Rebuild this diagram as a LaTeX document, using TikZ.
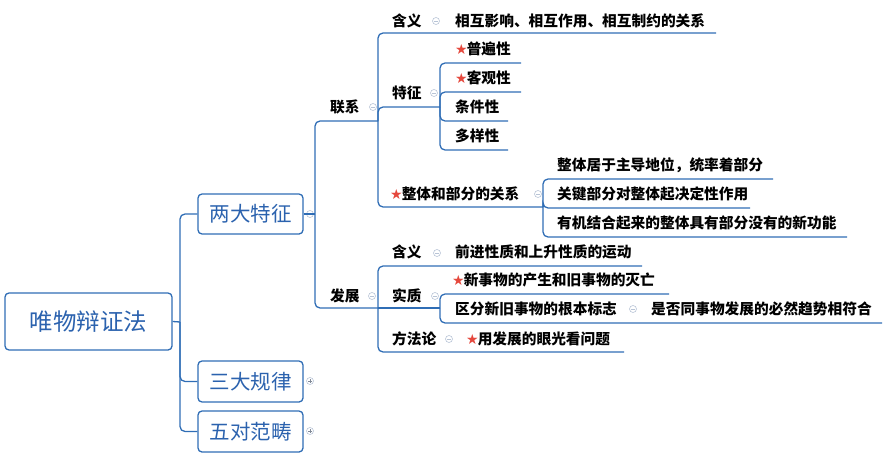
\documentclass[tikz,border=0pt]{standalone}
\usepackage{fontspec}
\setmainfont{Noto Sans CJK SC}
\newfontfamily\symf{DejaVu Sans}
\definecolor{ln}{HTML}{2F6DB5}
\definecolor{bt}{HTML}{2B62AE}
\definecolor{st}{HTML}{E5483D}
\definecolor{cg}{HTML}{B8C4D6}
\tikzset{
  link/.style={draw=ln,line width=1.3pt,rounded corners=5pt},
  lab/.style={anchor=west,inner sep=0pt,font=\fontsize{14.7}{16}\selectfont\bfseries},
  box/.style={draw=ln,line width=1.3pt,rounded corners=4pt,text=bt,inner sep=0pt},
  coll/.style={circle,draw=cg,line width=0.6pt,minimum size=7pt,inner sep=0pt},
}
\newcommand{\mstar}{{\symf\color{st}\fontsize{14}{12}\selectfont★}\hspace{-1pt}}
\newcommand{\minus}[2]{\node[coll] (#1) at (#2) {}; \draw[cg,line width=0.6pt] ([xshift=-2pt]#1.center)--([xshift=2pt]#1.center);}
\newcommand{\plus}[2]{\node[coll] (#1) at (#2) {}; \draw[cg!70!black,line width=0.6pt] ([xshift=-2pt]#1.center)--([xshift=2pt]#1.center) ([yshift=-2pt]#1.center)--([yshift=2pt]#1.center);}
\begin{document}
\begin{tikzpicture}[x=1pt,y=-1pt]
\useasboundingbox (0,0) rectangle (886,460);
\node[box,minimum width=167pt,minimum height=57pt,font=\fontsize{23.5}{26}\selectfont] (root) at (88.5,321.5) {唯物辩证法};
\node[box,minimum width=105pt,minimum height=40pt,font=\fontsize{20.5}{22}\selectfont] (b1) at (250.5,214) {两大特征};
\node[box,minimum width=105pt,minimum height=41pt,font=\fontsize{20.5}{22}\selectfont] (b2) at (250.5,381.5) {三大规律};
\node[box,minimum width=105pt,minimum height=41pt,font=\fontsize{20.5}{22}\selectfont] (b3) at (250.5,431.5) {五对范畴};
\coordinate (rh) at (180,322);
\draw[link] (root.east) -- (rh);
\draw[link] (rh) |- (b1.west);
\draw[link] (rh) |- (b2.west);
\draw[link] (rh) |- (b3.west);
\minus{c1}{310,214}
\plus{c2}{310,381}
\plus{c3}{310,431}
\node[lab] (lx) at (330,107) {联系}; \minus{clx}{373,107}
\node[lab] (fz) at (330,296) {发展}; \minus{cfz}{372,296}
\coordinate (lxb) at (378,121);
\coordinate (fzb) at (378,308);
\coordinate (t1) at (315,214);
\draw[link] (b1.east) -- (t1);
\draw[link] (t1) |- (lxb);
\draw[link] (t1) |- (fzb);
\node[lab] (hy1) at (392,21) {含义}; \minus{chy1}{436,21}
\node[lab] (hy1t) at (455,21) {相互影响、相互作用、相互制约的关系};
\coordinate (hy1e) at (716,33);
\draw[link] (lxb) |- (hy1e);
\node[lab] (tz) at (392,93) {特征}; \minus{ctz}{434,93}
\coordinate (tze) at (440,107);
\draw[link] (lxb) |- (tze);
\node[lab] (p1) at (455,49) {\mstar 普遍性};
\node[lab] (p2) at (455,78) {\mstar 客观性};
\node[lab] (p3) at (455,107) {条件性};
\node[lab] (p4) at (455,136) {多样性};
\coordinate (p1e) at (521,63); \coordinate (p2e) at (521,92);
\coordinate (p3e) at (508,121); \coordinate (p4e) at (508,150);
\draw[link] (tze) |- (p1e); \draw[link] (tze) |- (p2e);
\draw[link] (tze) |- (p3e); \draw[link] (tze) |- (p4e);
\node[lab] (zt) at (390,194) {\mstar 整体和部分的关系}; \minus{czt}{538,194}
\coordinate (zte) at (543,207);
\draw[link] (lxb) |- (zte);
\node[lab] (z1) at (557,165) {整体居于主导地位，统率着部分};
\node[lab] (z2) at (557,194) {关键部分对整体起决定性作用};
\node[lab] (z3) at (557,223) {有机结合起来的整体具有部分没有的新功能};
\coordinate (z1e) at (773,179); \coordinate (z2e) at (750,208); \coordinate (z3e) at (847,237);
\draw[link] (zte) |- (z1e); \draw[link] (zte) |- (z2e); \draw[link] (zte) |- (z3e);
\node[lab] (hy2) at (392,252) {含义}; \minus{chy2}{437,253}
\node[lab] (hy2t) at (455,252) {前进性质和上升性质的运动};
\coordinate (hy2e) at (642,266);
\draw[link] (fzb) |- (hy2e);
\node[lab] (sz) at (392,296) {实质}; \minus{csz}{435,296}
\coordinate (sze) at (440,308);
\draw[link] (fzb) -- (sze);
\node[lab] (s1) at (452,280) {\mstar 新事物的产生和旧事物的灭亡};
\coordinate (s1e) at (669,294);
\draw[link] (sze) |- (s1e);
\node[lab] (s2) at (455,309) {区分新旧事物的根本标志}; \minus{cs2}{633,309}
\node[lab] (s2t) at (651,309) {是否同事物发展的必然趋势相符合};
\coordinate (s2e) at (882,323);
\draw[link] (sze) |- (s2e);
\node[lab] (ff) at (392,339) {方法论}; \minus{cff}{449,339}
\node[lab] (fft) at (466,339) {\mstar 用发展的眼光看问题};
\coordinate (ffe) at (624,352);
\draw[link] (fzb) |- (ffe);
\end{tikzpicture}
\end{document}
